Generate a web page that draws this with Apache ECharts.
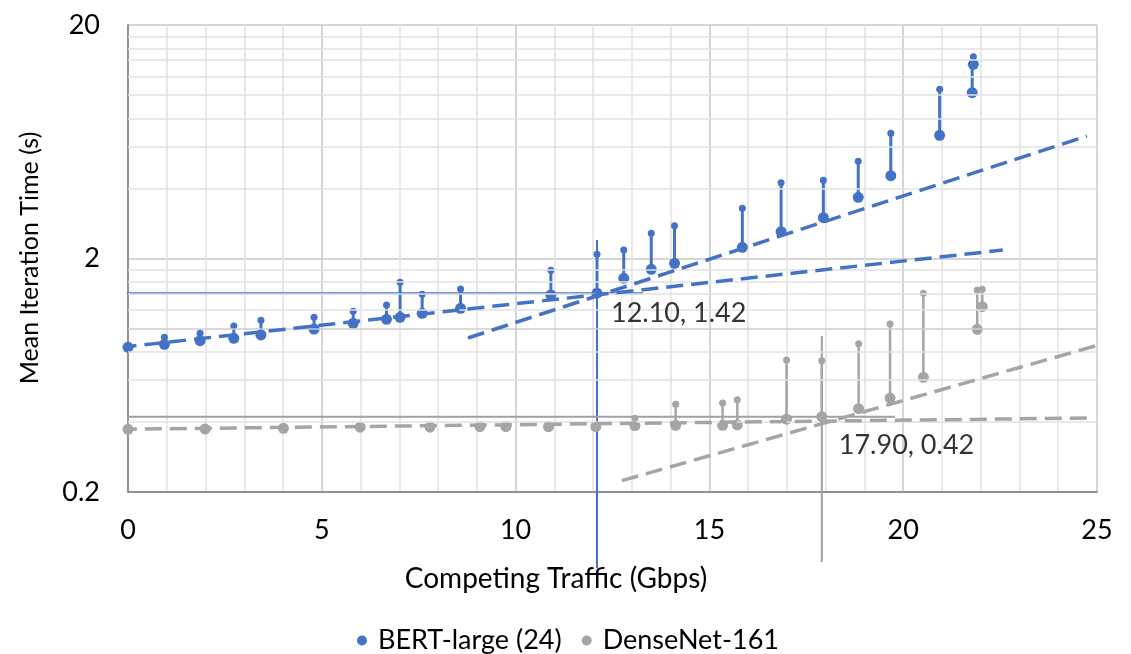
<!DOCTYPE html>
<html>
<head>
<meta charset="utf-8">
<script src="https://cdn.jsdelivr.net/npm/echarts@6/dist/echarts.min.js"></script>
<style>
  html, body { margin: 0; padding: 0; background: #fff; }
  #chart { width: 1131px; height: 654px; }
</style>
</head>
<body>
<div id="chart"></div>
<script>
// ---- data ----
const seriesNames = ['BERT-large (24)', 'DenseNet-161'];

// BERT-large (24): competing traffic (Gbps), mean iteration time and upper value (s)
const bertX     = [0, 0.94, 1.86, 2.73, 3.43, 4.80, 5.81, 6.67, 7.02, 7.59, 8.58, 10.91, 12.10, 12.79, 13.50, 14.10, 15.85, 16.85, 17.94, 18.84, 19.68, 20.94, 21.78, 21.81];
const bertMean  = [0.833, 0.858, 0.889, 0.910, 0.941, 0.998, 1.056, 1.098, 1.120, 1.165, 1.224, 1.396, 1.42, 1.645, 1.798, 1.907, 2.234, 2.605, 2.991, 3.658, 4.526, 6.741, 10.26, 13.57];
const bertUpper = [0.845, 0.920, 0.957, 1.028, 1.087, 1.120, 1.188, 1.265, 1.582, 1.405, 1.481, 1.780, 2.084, 2.174, 2.564, 2.764, 3.285, 4.224, 4.325, 5.219, 6.876, 10.61, 13.40, 14.63];

// DenseNet-161
const denseX     = [0, 1.99, 4.01, 5.99, 7.79, 9.08, 9.75, 10.85, 12.07, 13.08, 14.13, 15.34, 15.72, 16.99, 17.90, 18.85, 19.66, 20.52, 21.91, 22.04];
const denseMean  = [0.371, 0.372, 0.375, 0.379, 0.379, 0.381, 0.381, 0.381, 0.381, 0.385, 0.386, 0.386, 0.388, 0.410, 0.42, 0.455, 0.505, 0.620, 0.995, 1.243];
const denseUpper = [0.371, 0.372, 0.375, 0.379, 0.379, 0.381, 0.381, 0.381, 0.381, 0.414, 0.475, 0.481, 0.497, 0.735, 0.730, 0.863, 1.048, 1.419, 1.466, 1.476];

// exponential trend lines (straight on the log axis): [x0, x1], [y0, y1]
const bertTrendLowX   = [-1.50, 22.57];
const bertTrendLowY   = [0.788, 2.174];
const bertTrendHighX  = [8.77, 24.74];
const bertTrendHighY  = [0.913, 6.69];
const denseTrendLowX  = [-1.50, 24.82];
const denseTrendLowY  = [0.369, 0.415];
const denseTrendHighX = [12.74, 25.85];
const denseTrendHighY = [0.2236, 0.931];

// knee points where the two trends meet, with their guide-line extents
const kneeX = [12.10, 17.90];
const kneeY = [1.42, 0.42];
const kneeHSpan = [[-1.63, 13.29], [-1.45, 19.79]];   // x range of horizontal guide
const kneeVSpan = [[0.0945, 2.40], [0.1003, 0.931]];  // y range of vertical guide

// axes
const xTickValues = [0, 5, 10, 15, 20, 25];
const yTickLabels = ['0.2', '2', '20'];
const yMinorGrid  = [0.4, 0.6, 0.8, 1.2, 1.4, 1.6, 1.8, 4, 6, 8, 10, 12, 14, 16, 18];
const yMidGrid    = [1.0];

// ---- helpers ----
const Y_BASE = 0.2;                       // bottom of the log axis
const ly = v => Math.log10(v / Y_BASE);   // decades above 0.2

const BLUE = '#4472C4';
const GRAY = '#A5A5A5';
const FONT = 'Lato';
const FS = 27;

function scatterData(xs, ys) { return xs.map((x, i) => [x, ly(ys[i])]); }
function stemData(xs, lo, hi) { return xs.map((x, i) => [x, ly(lo[i]), ly(hi[i])]); }

function stemSeries(name, color, xs, lo, hi, lw, r) {
  return {
    type: 'custom', name, z: 3,
    data: stemData(xs, lo, hi),
    encode: { x: 0, y: [1, 2] },
    renderItem(params, api) {
      const a = api.coord([api.value(0), api.value(1)]);
      const b = api.coord([api.value(0), api.value(2)]);
      return {
        type: 'group',
        children: [
          { type: 'line', shape: { x1: a[0], y1: a[1], x2: b[0], y2: b[1] },
            style: { stroke: color, lineWidth: lw } },
          { type: 'circle', shape: { cx: b[0], cy: b[1], r },
            style: { fill: color } }
        ]
      };
    }
  };
}

function segment(name, color, xs, ys, width, dashed) {
  return {
    type: 'line', name, clip: false, silent: true, z: dashed ? 5 : 2,
    symbol: 'none',
    data: xs.map((x, i) => [x, ly(ys[i])]),
    lineStyle: { color, width, type: dashed ? [17, 8] : 'solid', cap: 'butt' }
  };
}

function gridLines(name, values, color) {
  return {
    type: 'line', name, data: [], silent: true, z: 1,
    markLine: {
      silent: true, symbol: 'none', animation: false,
      label: { show: false },
      lineStyle: { color, width: 1.5, type: 'solid' },
      data: values.map(v => ({ yAxis: ly(v) }))
    }
  };
}

// ---- chart ----
const chart = echarts.init(document.getElementById('chart'));

const option = {
  animation: false,
  backgroundColor: '#ffffff',
  textStyle: { fontFamily: FONT },
  grid: { left: 128, right: 34, top: 25, bottom: 162 },
  xAxis: [{
    type: 'value', min: xTickValues[0], max: xTickValues[xTickValues.length - 1], interval: 5,
    axisLine: { show: true, lineStyle: { color: '#8c8c8c', width: 1.5 } },
    axisTick: { show: false },
    axisLabel: { fontSize: FS, fontFamily: FONT, color: '#000', margin: 25 },
    splitLine: { show: true, lineStyle: { color: '#c9c9c9', width: 1.5 } },
    minorTick: { show: false, splitNumber: 5 },
    minorSplitLine: { show: true, lineStyle: { color: '#e2e2e2', width: 1.5 } }
  }, {
    type: 'value', position: 'top', min: 0, max: 25, interval: 5,
    axisLine: { show: true, lineStyle: { color: '#8c8c8c', width: 1.5 } },
    axisTick: { show: false }, axisLabel: { show: false }, splitLine: { show: false }
  }],
  yAxis: [{
    type: 'value', min: 0, max: 2, interval: 1,
    axisLine: { show: true, lineStyle: { color: '#8c8c8c', width: 1.5 } },
    axisTick: { show: false },
    axisLabel: {
      fontSize: FS, fontFamily: FONT, color: '#000', margin: 28,
      formatter: (v, i) => yTickLabels[i] !== undefined ? yTickLabels[i] : ''
    },
    splitLine: { show: true, lineStyle: { color: '#c9c9c9', width: 1.5 } }
  }, {
    type: 'value', position: 'right', min: 0, max: 2, interval: 1,
    axisLine: { show: true, lineStyle: { color: '#8c8c8c', width: 1.5 } },
    axisTick: { show: false }, axisLabel: { show: false }, splitLine: { show: false }
  }],
  legend: {
    data: seriesNames.map(n => ({ name: n, icon: 'circle' })),
    left: 352, top: 622,
    itemWidth: 10, itemHeight: 10, itemGap: 20,
    textStyle: { fontSize: FS, fontFamily: FONT, color: '#000', padding: [0, 0, 0, 6] }
  },
  graphic: [
    { type: 'text', x: 30, y: 258, rotation: Math.PI / 2,
      style: { text: 'Mean Iteration Time (s)', fontSize: 25, fontFamily: FONT, fill: '#000',
               align: 'center', verticalAlign: 'middle' } },
    { type: 'text', x: 556, y: 579,
      style: { text: 'Competing Traffic (Gbps)', fontSize: 28, fontFamily: FONT, fill: '#000',
               align: 'center', verticalAlign: 'middle' } }
  ],
  series: [
    gridLines('minor grid', yMinorGrid, '#e2e2e2'),
    gridLines('mid grid', yMidGrid, '#cdcdcd'),

    // knee guide lines
    segment('bert knee h', BLUE, kneeHSpan[0], [kneeY[0], kneeY[0]], 2, false),
    segment('bert knee v', BLUE, [kneeX[0], kneeX[0]], kneeVSpan[0], 2, false),
    segment('dense knee h', '#a0a0a0', kneeHSpan[1], [kneeY[1], kneeY[1]], 2, false),
    segment('dense knee v', '#a0a0a0', [kneeX[1], kneeX[1]], kneeVSpan[1], 2, false),

    // trend lines
    segment('bert trend low', BLUE, bertTrendLowX, bertTrendLowY, 3.5, true),
    segment('bert trend high', BLUE, bertTrendHighX, bertTrendHighY, 3.5, true),
    segment('dense trend low', GRAY, denseTrendLowX, denseTrendLowY, 3.5, true),
    segment('dense trend high', GRAY, denseTrendHighX, denseTrendHighY, 3.5, true),

    // stems up to the upper values
    stemSeries('bert upper', BLUE, bertX, bertMean, bertUpper, 3, 3.5),
    stemSeries('dense upper', GRAY, denseX, denseMean, denseUpper, 2.5, 3.5),

    // means
    { type: 'scatter', name: seriesNames[0], z: 4, symbol: 'circle', symbolSize: 11,
      itemStyle: { color: BLUE, opacity: 1 }, data: scatterData(bertX, bertMean) },
    { type: 'scatter', name: seriesNames[1], z: 4, symbol: 'circle', symbolSize: 11,
      itemStyle: { color: GRAY, opacity: 1 }, data: scatterData(denseX, denseMean) },

    // knee labels
    { type: 'scatter', name: 'knee', z: 6, symbolSize: 0, silent: true,
      data: kneeX.map((x, i) => [x, ly(kneeY[i])]),
      label: {
        show: true, position: 'right', distance: 0, align: 'left', verticalAlign: 'middle',
        fontSize: FS, fontFamily: FONT, color: '#000',
        formatter: p => kneeX[p.dataIndex].toFixed(2) + ', ' + kneeY[p.dataIndex].toFixed(2)
      },
      labelLayout: p => ({ dx: p.dataIndex === 0 ? 14 : 17, dy: p.dataIndex === 0 ? 20 : 29 })
    }
  ]
};

chart.setOption(option);
</script>
</body>
</html>
